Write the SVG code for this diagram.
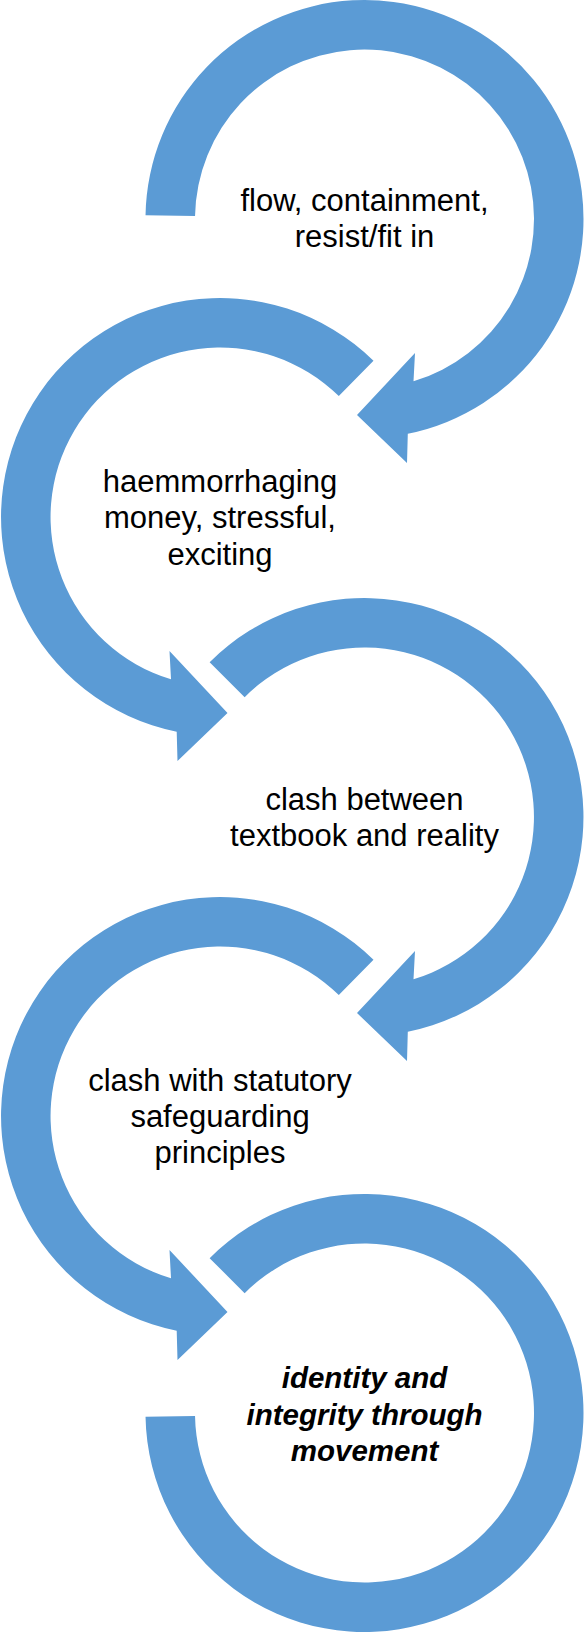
<svg xmlns="http://www.w3.org/2000/svg" width="585" height="1633" viewBox="0 0 585 1633">
<style>
.ring{fill:#5B9BD5;stroke:none}
.lbl{font-family:"Liberation Sans",Arial,sans-serif;font-size:31px;fill:#000;text-anchor:middle}
.em{font-weight:bold;font-style:italic;font-size:29.5px}
</style>
<rect width="585" height="1633" fill="#ffffff"/>
<g id="node1">
<path class="ring" d="M145.53,215.18 A219,219 0 1 1 407.8,433.7 L407,463 L357,415 L415,353 L413.5,381.3 A169.5,169.5 0 1 0 195.03,216.04 Z"/>
<text class="lbl" x="364.5" y="211">flow, containment,</text>
<text class="lbl" x="364.5" y="247">resist/fit in</text>
</g>
<g id="node2">
<path class="ring" d="M373.5,360.8 A219,219 0 1 0 176.7,731.7 L177.5,761 L227.5,713 L169.5,651 L171,679.3 A169.5,169.5 0 1 1 338.8,396.1 Z"/>
<text class="lbl" x="220" y="491.5">haemmorrhaging</text>
<text class="lbl" x="220" y="528">money, stressful,</text>
<text class="lbl" x="220" y="564.5">exciting</text>
</g>
<g id="node3">
<path class="ring" d="M209.64,662.14 A219,219 0 1 1 407.8,1031.7 L407,1061 L357,1013 L415,951 L413.5,979.3 A169.5,169.5 0 1 0 244.65,697.15 Z"/>
<text class="lbl" x="364.5" y="810">clash between</text>
<text class="lbl" x="364.5" y="846">textbook and reality</text>
</g>
<g id="node4">
<path class="ring" d="M373.5,959.8 A219,219 0 1 0 176.7,1330.7 L177.5,1360 L227.5,1312 L169.5,1250 L171,1278.3 A169.5,169.5 0 1 1 338.8,995.1 Z"/>
<text class="lbl" x="220" y="1091">clash with statutory</text>
<text class="lbl" x="220" y="1127">safeguarding</text>
<text class="lbl" x="220" y="1163">principles</text>
</g>
<g id="node5">
<path class="ring" d="M209.64,1258.14 A219,219 0 1 1 145.53,1416.82 L195.03,1415.96 A169.5,169.5 0 1 0 244.65,1293.15 Z"/>
<text class="lbl em" x="364.5" y="1388">identity and</text>
<text class="lbl em" x="364.5" y="1425">integrity through</text>
<text class="lbl em" x="364.5" y="1461">movement</text>
</g>
<g id="connectors"/>
</svg>
